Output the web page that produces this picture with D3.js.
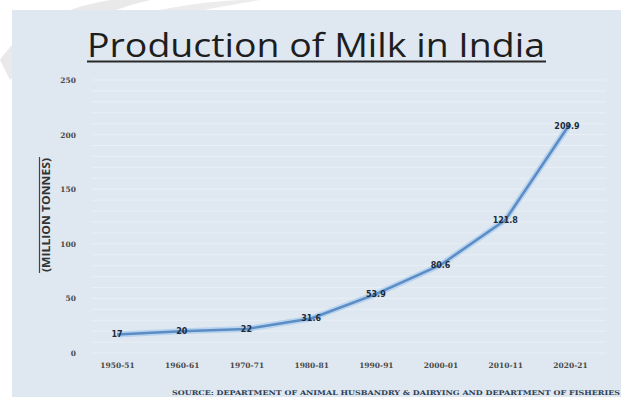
<!DOCTYPE html>
<html>
<head>
<meta charset="utf-8">
<script src="https://cdn.jsdelivr.net/npm/d3@7"></script>
<style>
html,body{margin:0;padding:0;background:#ffffff;}
svg{display:block;}
</style>
</head>
<body>
<svg id="chart" width="626" height="397"></svg>
<script>
const categories = ["1950-51","1960-61","1970-71","1980-81","1990-91","2000-01","2010-11","2020-21"];
const production = [17, 20, 22, 31.6, 53.9, 80.6, 121.8, 209.9];
const yTicks = [0, 50, 100, 150, 200, 250];
const titleText = "Production of Milk in India";
const yAxisTitle = "(MILLION TONNES)";
const sourceText = "SOURCE: DEPARTMENT OF ANIMAL HUSBANDRY & DAIRYING AND DEPARTMENT OF FISHERIES";

const svg = d3.select("#chart");

// watermark decoration top-left
svg.append("path")
  .attr("d", "M0,60 C20,30 60,8 110,0 L150,0 C100,12 50,35 10,80 Z")
  .attr("fill", "#e9e9e9");
svg.append("path")
  .attr("d", "M120,20 C160,8 200,2 240,0 L260,0 C210,8 170,16 130,30 Z")
  .attr("fill", "#ececec");

// panel
svg.append("rect").attr("x", 12).attr("y", 10).attr("width", 609).attr("height", 387)
  .attr("fill", "#dfe8f1");

const y = d3.scaleLinear().domain([0, 250]).range([353, 80]);
const x = d3.scalePoint().domain(categories).range([117, 570]);

// minor gridlines
const grid = d3.range(0, 251, 10);
svg.append("g").selectAll("line").data(grid).join("line")
  .attr("x1", 92).attr("x2", 606)
  .attr("y1", d => y(d)).attr("y2", d => y(d))
  .attr("stroke", "#e8eff6").attr("stroke-width", 1);

// title
svg.append("text").attr("x", 87).attr("y", 57)
  .attr("font-family", "'Open Sans', Lato, sans-serif")
  .attr("font-size", 33)
  .attr("fill", "#1e1e1e")
  .attr("textLength", 458)
  .attr("lengthAdjust", "spacingAndGlyphs")
  .text(titleText);
svg.append("line").attr("x1", 87).attr("x2", 546).attr("y1", 61.5).attr("y2", 61.5)
  .attr("stroke", "#2a2a2a").attr("stroke-width", 2);

// y axis
const yAxis = d3.axisLeft(y).tickValues(yTicks).tickSize(0).tickPadding(0);
const yg = svg.append("g").attr("transform", "translate(76,0)").call(yAxis);
yg.select(".domain").remove();
yg.selectAll("text")
  .attr("font-family", "'DejaVu Serif', 'Liberation Serif', serif")
  .attr("font-size", 7.5)
  .attr("font-weight", "bold")
  .attr("fill", "#4a4a4a");

// y axis title
svg.append("text")
  .attr("transform", "translate(50,215) rotate(-90)")
  .attr("text-anchor", "middle")
  .attr("font-family", "'Open Sans', sans-serif")
  .attr("font-size", 11)
  .attr("font-weight", "bold")
  .attr("fill", "#333")
  .attr("textLength", 114)
  .attr("lengthAdjust", "spacingAndGlyphs")
  .text(yAxisTitle);
svg.append("line").attr("x1", 39.5).attr("x2", 39.5).attr("y1", 157).attr("y2", 273)
  .attr("stroke", "#444").attr("stroke-width", 1.2);

// x axis
const xAxis = d3.axisBottom(x).tickSize(0).tickPadding(0);
const xg = svg.append("g").attr("transform", "translate(0,363)").call(xAxis);
xg.select(".domain").remove();
xg.selectAll("text")
  .attr("font-family", "'DejaVu Serif', 'Liberation Serif', serif")
  .attr("font-size", 7.5)
  .attr("font-weight", "bold")
  .attr("fill", "#4a4a4a");

// line
const line = d3.line().x((d, i) => x(categories[i])).y(d => y(d));
svg.append("path").datum(production).attr("d", line)
  .attr("fill", "none").attr("stroke", "#b8d3ef").attr("stroke-width", 6).attr("stroke-linejoin", "round");
svg.append("path").datum(production).attr("d", line)
  .attr("fill", "none").attr("stroke", "#5b8cc4").attr("stroke-width", 2.5).attr("stroke-linejoin", "round");

// data labels
svg.append("g").selectAll("text").data(production).join("text")
  .attr("x", (d, i) => x(categories[i]) - (i === 7 ? 3 : 0))
  .attr("y", (d, i) => y(d) + 3 + (i === 7 ? 2 : 0))
  .attr("text-anchor", "middle")
  .attr("font-family", "'DejaVu Sans', sans-serif")
  .attr("font-size", 8)
  .attr("font-weight", "bold")
  .attr("fill", "#1d2b3a")
  .text(d => d);

// source
svg.append("text").attr("x", 172).attr("y", 395)
  .attr("font-family", "'DejaVu Serif', serif")
  .attr("font-size", 6.5)
  .attr("font-weight", "bold")
  .attr("fill", "#2f3f55")
  .attr("textLength", 448)
  .attr("lengthAdjust", "spacingAndGlyphs")
  .text(sourceText);
</script>
</body>
</html>
